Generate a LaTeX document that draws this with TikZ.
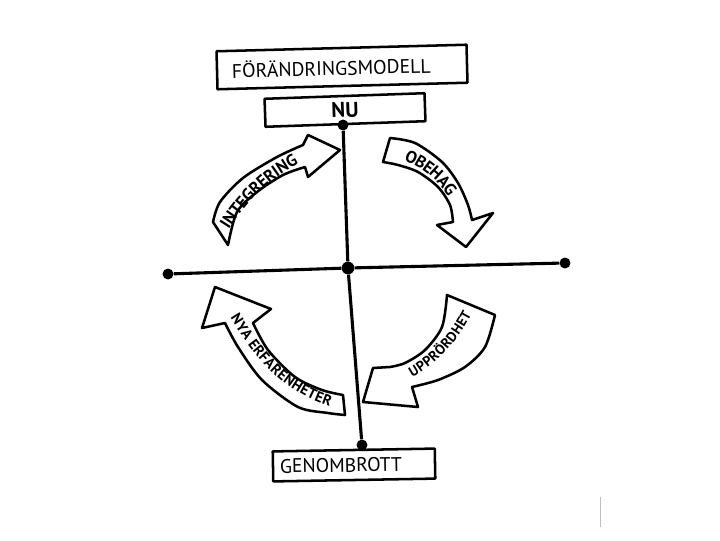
\documentclass[tikz,border=0pt]{standalone}
\usepackage{fontspec}
\setmainfont{PT Sans}
\usetikzlibrary{decorations.text}

\begin{document}
\begin{tikzpicture}[x=0.025cm, y=0.025cm, line join=round,
        p/.style={circle, fill=black, inner sep=0pt, minimum width=7.8pt},
        box/.style={draw, line width=1.8pt, inner ysep=0pt, align=left},
        arr/.style={draw, fill=white, line width=1.8pt},
        axis/.style={line width=2.2pt},
        lbl/.style={decorate, decoration={text along path,
                        text align=center, raise=-3.8pt}}]
    \useasboundingbox (0,0) rectangle (720,540);
    % boxes
    \node[box, rotate=1.5, minimum height=0.95cm, text width=5.5cm,
          inner xsep=0.375cm] (title) at (342,473)
          {\fontsize{14}{16}\selectfont FÖRÄNDRINGSMODELL};
    \node[box, rotate=2, minimum width=4cm, minimum height=0.7cm,
          align=center] (nu) at (345,430) {\bfseries\fontsize{15}{18}\selectfont NU};
    \node[box, rotate=1, minimum height=0.75cm, text width=3.7cm,
          inner xsep=0.175cm] (gen) at (354,75)
          {\fontsize{14}{16}\selectfont GENOMBROTT};
    % axes
    \node[p] (top) at (343,415) {};
    \node[p, minimum width=9pt] (mid) at (348,272) {};
    \node[p] (bot) at (362,95) {};
    \node[p] (left) at (168,266) {};
    \node[p] (right) at (565,277) {};
    \draw[axis] (top) -- (mid) -- (bot)
                (left) -- (mid) -- (right);
    % arrows
    \draw[arr] plot[smooth] coordinates {(213,318) (220,338) (243,362) (277,383) (303,395)}
        -- (308,405) -- (340,390) -- (308,363)
        -- plot[smooth] coordinates {(305,373) (283,365) (257,348) (237,328) (228,295)} -- cycle;
    \draw[arr] plot[smooth] coordinates {(390,402) (415,397) (442,378) (458,357) (468,335) (472,320)}
        -- (493,327) -- (466,293) -- (437,315)
        -- plot[smooth] coordinates {(453,318) (450,335) (438,353) (418,368) (398,375) (383,378)} -- cycle;
    \draw[arr] plot[smooth] coordinates {(495,225) (485,193) (465,173) (438,160) (412,153)}
        -- (418,133) -- (363,138) -- (373,172)
        -- plot[smooth] coordinates {(390,173) (405,177) (425,190) (442,213) (447,245)} -- cycle;
    \draw[arr] plot[smooth] coordinates {(345,125) (328,127) (298,133) (262,160) (238,193) (225,217)}
        -- (202,212) -- (215,253) -- (271,231)
        -- plot[smooth] coordinates {(253,217) (268,190) (295,163) (322,150) (343,145)} -- cycle;
    % labels
    \path[lbl, decoration={text={|\bfseries\fontsize{12}{14}\selectfont|INTEGRERING}}]
        (219,304) .. controls (240,341) and (269,370) .. (306,385);
    \path[lbl, decoration={text={|\bfseries\fontsize{12}{14}\selectfont|OBEHAG}}]
        (386,390) .. controls (422,384) and (448,362) .. (462,328);
    \path[lbl, decoration={text={|\bfseries\fontsize{10}{12}\selectfont|UPPRÖRDHET}}]
        (401,163) .. controls (433,177) and (457,205) .. (471,237);
    \path[lbl, decoration={text={|\bfseries\fontsize{10.5}{12}\selectfont|NYA ERFARENHETER}}]
        (228,236) .. controls (260,183) and (284,151) .. (344,135);
    \draw[black!25, line width=0.6pt] (600,13) -- (600,43);
\end{tikzpicture}
\end{document}
